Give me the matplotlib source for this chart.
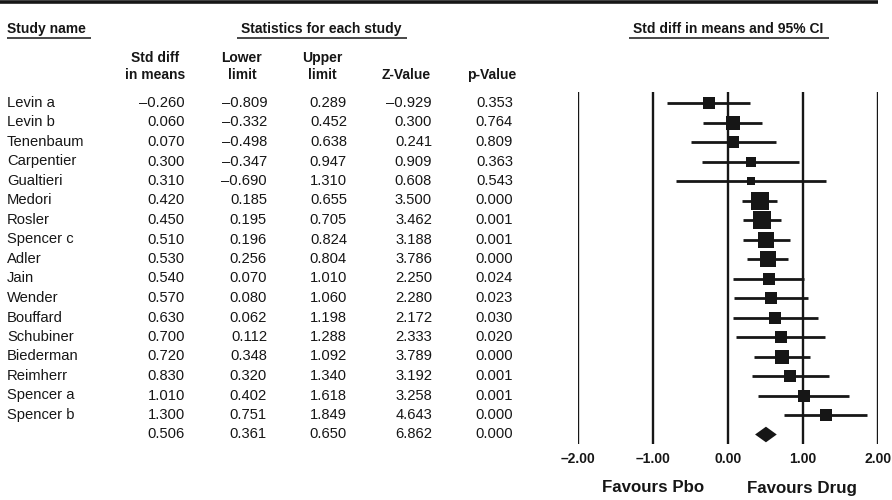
import matplotlib
matplotlib.use("Agg")
import matplotlib.pyplot as plt
import numpy as np

plt.rcParams['font.family'] = ['Liberation Sans', 'DejaVu Sans']

studies = ["Levin a", "Levin b", "Tenenbaum", "Carpentier", "Gualtieri", "Medori",
           "Rosler", "Spencer c", "Adler", "Jain", "Wender", "Bouffard", "Schubiner",
           "Biederman", "Reimherr", "Spencer a", "Spencer b"]
std_diff = [-0.260, 0.060, 0.070, 0.300, 0.310, 0.420, 0.450, 0.510, 0.530, 0.540,
            0.570, 0.630, 0.700, 0.720, 0.830, 1.010, 1.300]
lower = [-0.809, -0.332, -0.498, -0.347, -0.690, 0.185, 0.195, 0.196, 0.256, 0.070,
         0.080, 0.062, 0.112, 0.348, 0.320, 0.402, 0.751]
upper = [0.289, 0.452, 0.638, 0.947, 1.310, 0.655, 0.705, 0.824, 0.804, 1.010,
         1.060, 1.198, 1.288, 1.092, 1.340, 1.618, 1.849]
z_value = [-0.929, 0.300, 0.241, 0.909, 0.608, 3.500, 3.462, 3.188, 3.786, 2.250,
           2.280, 2.172, 2.333, 3.789, 3.192, 3.258, 4.643]
p_value = [0.353, 0.764, 0.809, 0.363, 0.543, 0.000, 0.001, 0.001, 0.000, 0.024,
           0.023, 0.030, 0.020, 0.000, 0.001, 0.001, 0.000]
summary = {"est": 0.506, "lo": 0.361, "hi": 0.650, "z": 6.862, "p": 0.000}
x_ticks = [-2.0, -1.0, 0.0, 1.0, 2.0]

INK = "#161616"
W, H = 892, 500


def fmt(v, nd=3):
    s = f"{v:.{nd}f}"
    return s.replace("-", "\u2013")


fig = plt.figure(figsize=(W / 100, H / 100), dpi=100)

# overlay in pixel coordinates for the table part
tx = fig.add_axes([0, 0, 1, 1])
tx.set_xlim(0, W)
tx.set_ylim(H, 0)
tx.axis("off")

# heavy rule at the top
tx.plot([0, 878], [1.5, 1.5], color=INK, lw=2.6, solid_capstyle="butt")

fs_head = 10
fs_body = 10.6
row0, dy = 103.0, 19.5

# section headings with underlines
heads = [("Study name", 7, "left", 7, 91),
         ("Statistics for each study", 321.5, "center", 237, 407),
         ("Std diff in means and 95% CI", 728, "center", 629, 829)]
for label, x, ha, u0, u1 in heads:
    tx.text(x, 29, label, ha=ha, va="center", fontsize=fs_head, fontweight="bold", color=INK)
    tx.plot([u0, u1], [37.5, 37.5], color=INK, lw=1.1, solid_capstyle="butt")

# column headers
col_heads = [("Std diff\nin means", 155), ("Lower\nlimit", 242), ("Upper\nlimit", 322),
             ("Z-Value", 406), ("p-Value", 492)]
for label, x in col_heads:
    lines = label.split("\n")
    if len(lines) == 2:
        tx.text(x, 58, lines[0], ha="center", va="center", fontsize=fs_head, fontweight="bold", color=INK)
        tx.text(x, 75, lines[1], ha="center", va="center", fontsize=fs_head, fontweight="bold", color=INK)
    else:
        tx.text(x, 75, lines[0], ha="center", va="center", fontsize=fs_head, fontweight="bold", color=INK)

# table body
right_edges = [185, 267, 347, 432, 513]
columns = [std_diff, lower, upper, z_value, p_value]
for i, name in enumerate(studies):
    y = row0 + dy * i
    tx.text(7, y, name, ha="left", va="center", fontsize=fs_body, color=INK)
    for col, xr in zip(columns, right_edges):
        tx.text(xr, y, fmt(col[i]), ha="right", va="center", fontsize=fs_body, color=INK)
ys = row0 + dy * len(studies)
for v, xr in zip([summary["est"], summary["lo"], summary["hi"], summary["z"], summary["p"]], right_edges):
    tx.text(xr, ys, fmt(v), ha="right", va="center", fontsize=fs_body, color=INK)

# forest plot
top_px, bot_px = 92, 444
left_px, right_px = 578, 878
ax = fig.add_axes([left_px / W, 1 - bot_px / H, (right_px - left_px) / W, (bot_px - top_px) / H])
ax.set_xlim(-2, 2)
ax.set_ylim((bot_px - row0) / dy, (top_px - row0) / dy)
for s in ax.spines.values():
    s.set_visible(False)
ax.patch.set_alpha(0)
ax.set_yticks([])
ax.set_xticks(x_ticks)
ax.set_xticklabels([fmt(t, 2) for t in x_ticks], fontsize=fs_head, fontweight="bold", color=INK)
ax.tick_params(axis="x", length=0, pad=6)
y0, y1 = ax.get_ylim()
ax.vlines(x_ticks, y1, y0, color=INK, lw=1.7)

rows = np.arange(len(studies))
est = np.array(std_diff)
lo = np.array(lower)
hi = np.array(upper)
ax.hlines(rows, lo, hi, color=INK, lw=2.0, zorder=3)
# box side grows with study precision
se = (hi - lo) / 3.92
side_px = 6.2 / np.sqrt(se)
for r, e, s in zip(rows, est, side_px):
    ax.plot(e, r, marker="s", ms=s * 0.72, color=INK, mec=INK, mew=0, zorder=4, clip_on=False)

rs = len(studies)
h = 0.4
ax.fill([summary["lo"], summary["est"], summary["hi"], summary["est"]],
        [rs, rs - h, rs, rs + h], color=INK, lw=0, zorder=4, clip_on=False)

# direction labels
tx.text(653, 488, "Favours Pbo", ha="center", va="center", fontsize=12.2, fontweight="bold", color=INK)
tx.text(802, 488, "Favours Drug", ha="center", va="center", fontsize=12.2, fontweight="bold", color=INK)

fig.savefig("out.png", dpi=100)
